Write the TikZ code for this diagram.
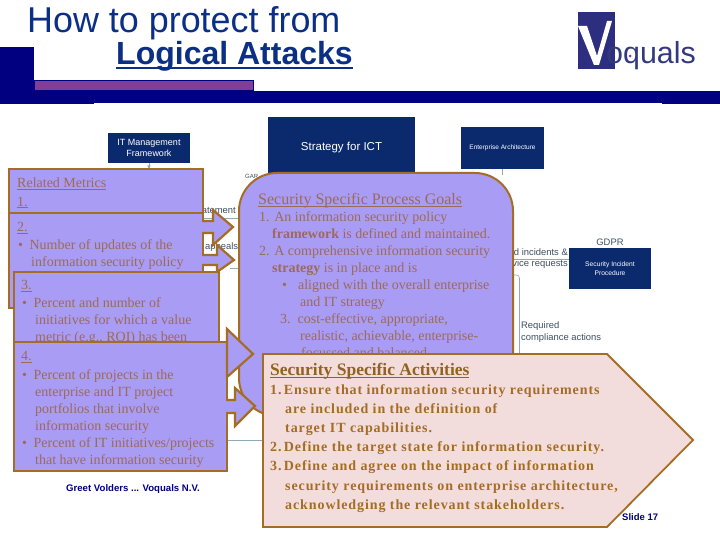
\documentclass[tikz,border=0pt]{standalone}
\usepackage{fontspec}
\setmainfont{Liberation Serif}
\newfontfamily\arialfont{Liberation Sans}
\newfontfamily\actfont[LetterSpace=6.5]{Liberation Serif}
\definecolor{navyblock}{HTML}{000080}
\definecolor{titleblue}{HTML}{0A2F85}
\definecolor{boxblue}{HTML}{0B2A6E}
\definecolor{logoblue}{HTML}{2E2E80}
\definecolor{logotext}{HTML}{33397F}
\definecolor{barpurple}{HTML}{7F3F98}
\definecolor{lavender}{HTML}{A99CF5}
\definecolor{rust}{HTML}{A56D24}
\definecolor{metrictext}{HTML}{9C6A58}
\definecolor{pinkfill}{HTML}{F2DDDC}
\definecolor{linkgrey}{HTML}{8FA9BD}
\definecolor{smalltext}{HTML}{3F4F63}
\tikzset{
    navybox/.style={fill=boxblue, text=white, align=center, inner sep=0pt, font=\arialfont\fontsize{9}{11.5}\selectfont},
    smalllabel/.style={inner sep=0pt, text=smalltext, font=\arialfont\fontsize{9.4}{11.5}\selectfont},
    metricbox/.style={draw=rust, line width=2pt, fill=lavender},
    metricline/.style={anchor=north west, inner sep=0pt, align=left, text=metrictext, font=\fontsize{14}{17}\selectfont},
    blockarrow/.style={draw=rust, line width=2.2pt, fill=lavender, line join=miter},
    link/.style={draw=linkgrey, line width=0.6pt},
}
\newcommand{\hang}{\hspace*{11pt}}
\newsavebox\ulbox
\newcommand{\ubar}[3]{\sbox\ulbox{#3}\rlap{\usebox\ulbox}\rlap{\raisebox{-#2}{\rule{\wd\ulbox}{#1}}}\hspace*{\wd\ulbox}}
\begin{document}
\begin{tikzpicture}[
        x=1pt, y=-1pt, >=latex,
    ]
    \useasboundingbox (0,0) rectangle (720,540);
    \fill[white] (0,0) rectangle (720,540);

    % header bars
    \fill[navyblock] (0,47) rectangle (34,104);
    \fill[navyblock] (34,91) rectangle (720,103);
    \fill[navyblock] (0,103) rectangle (94,104.5);
    \fill[navyblock] (662,103) rectangle (720,104.5);
    \draw[draw=navyblock, line width=1pt, fill=barpurple] (34,81) rectangle (253.5,91);

    \node (title) [anchor=base west, inner sep=0pt, text=titleblue, font=\arialfont\fontsize{35.9}{36}\selectfont] at (27,33) {How to protect from};
    \node (subtitle) [anchor=base west, inner sep=0pt, text=titleblue, font=\arialfont\bfseries\fontsize{32}{33}\selectfont] at (116,65) {\ubar{1.6pt}{4pt}{Logical Attacks}};

    % logo
    \fill[logoblue] (578,12) rectangle (615,69);
    \fill[white] (578,26) -- (587,26) -- (597,56) -- (607,21) -- (612,21) -- (599,65) -- (594,65) -- cycle;
    \node (logo) [anchor=base west, inner sep=0pt, text=logotext, font=\arialfont\fontsize{30.4}{31}\selectfont] at (606,64) {oquals};
    \fill[barpurple] (630,56) circle (1.5);

    % background chart
    \node (itmgmt) [navybox, minimum width=82pt, minimum height=30pt] at (149,148) {IT Management\\Framework};
    \node (strategy) [navybox, minimum width=147pt, minimum height=62pt, font=\arialfont\fontsize{11.5}{13}\selectfont] at (341.5,148) {Strategy for ICT};
    \node (entarch) [navybox, minimum width=83pt, minimum height=42pt, font=\arialfont\fontsize{6.5}{9}\selectfont] at (502.5,148) {Enterprise Architecture};
    \node (incident) [navybox, minimum width=82pt, minimum height=41pt, font=\arialfont\fontsize{6.7}{9}\selectfont] at (610,268.5) {Security Incident\\Procedure};
    \node (gdpr) [smalllabel, anchor=south] at (610,246) {GDPR};
    \node (gar) [smalllabel, anchor=west, font=\arialfont\fontsize{6}{8}\selectfont] at (245,176) {GAR};
    \node (stmt) [smalllabel, anchor=east] at (236,211) {statement};
    \node (apprv) [smalllabel, anchor=west] at (205,247) {appeals \&};
    \node (related) [smalllabel, anchor=east] at (568,252.5) {Related incidents \&};
    \node (service) [smalllabel, anchor=east] at (568,264.5) {service requests};
    \node (required) [smalllabel, anchor=north west, align=left] at (521,321.5) {Required\\compliance actions};

    \coordinate (stmtA) at (204,218);
    \coordinate (stmtB) at (239,218);
    \coordinate (apprA) at (230,268);
    \coordinate (apprB) at (239,268);
    \coordinate (activityA) at (227,440);
    \coordinate (activityB) at (263,440);
    \coordinate (metricTop) at (149,170);
    \coordinate (goalTop) at (502.5,175);
    \coordinate (incidentA) at (513,259);
    \coordinate (reqA) at (513,275);
    \coordinate (reqB) at (519.5,354);

    \draw[link] (stmtA) -- (stmtB);
    \draw[link] (apprA) -- (apprB);
    \draw[link] (activityA) -- (activityB);
    \draw[link, ->] (itmgmt.south) -- (metricTop);
    \draw[link] (entarch.south) -- (goalTop);
    \draw[link] (incidentA) -- (incidentA -| incident.west);
    \draw[link, rounded corners=3pt] (reqA) -| (reqB);

    % process goals
    \draw[metricbox, rounded corners=38pt] (239,173) rectangle (513,416);
    \node (goalhead) [metricline, font=\fontsize{16}{18}\selectfont] at (258,193.5) {\ubar{1.1pt}{2.5pt}{Security Specific Process Goals}};
    \node (goals) [metricline] at (259,211.5) {1. An information security policy\\
        \hspace*{13pt}\textbf{framework} is defined and maintained.\\
        2. A comprehensive information security\\
        \hspace*{13pt}\textbf{strategy} is in place and is\\
        \hspace*{23pt}\textbullet\hspace*{11pt}aligned with the overall enterprise\\
        \hspace*{41pt}and IT strategy\\
        \hspace*{21pt}3.\ \ cost-effective, appropriate,\\
        \hspace*{41pt}realistic, achievable, enterprise-\\
        \hspace*{42pt}focussed and balanced.};

    % metrics 1 and 2
    \draw[metricbox] (9,169) rectangle (203,213);
    \draw[metricbox] (9,213) rectangle (203,308);
    \node (metrichead) [metricline] at (17,177.5) {\ubar{0.8pt}{2pt}{Related Metrics}\\[1.8pt]\ubar{0.8pt}{2pt}{1.}};
    \node (numB) [metricline] at (17,222) {\ubar{0.8pt}{2pt}{2.}};
    \node (metricB) [metricline] at (18,239) {\textbullet\hspace*{6.5pt}Number of updates of the\\\hang\hspace*{2pt}information security policy};

    \draw[blockarrow] (202,221) -- (213,221) -- (213,210) -- (233,227) -- (213,245) -- (213,233) -- (202,233);
    \draw[blockarrow] (202,255) -- (217,255) -- (217,245) -- (234,260) -- (217,272) -- (217,265) -- (202,265);

    % metrics 3
    \draw[metricbox] (14,272) rectangle (219,360);
    \node (numC) [metricline] at (21,280) {\ubar{0.8pt}{2pt}{3.}};
    \node (metricC) [metricline] at (22,297) {\textbullet\hspace*{6.5pt}Percent and number of\\\hang\hspace*{2pt}initiatives for which a value\\\hang\hspace*{2pt}metric (e.g., ROI) has been};

    % metrics 4
    \draw[metricbox] (14,342) rectangle (227,471);
    \node (numD) [metricline] at (21,351) {\ubar{0.8pt}{2pt}{4.}};
    \node (metricD) [metricline] at (22,369) {\textbullet\hspace*{6.5pt}Percent of projects in the\\\hang\hspace*{2pt}enterprise and IT project\\\hang\hspace*{2pt}portfolios that involve\\\hang\hspace*{2pt}information security\\\textbullet\hspace*{6.5pt}Percent of IT initiatives/projects\\\hang\hspace*{2pt}that have information security};

    \draw[blockarrow] (227,329) -- (253,354) -- (227,377) -- cycle;
    \draw[blockarrow] (226,400) -- (235,400) -- (235,388) -- (255,406) -- (235,426) -- (235,413) -- (226,413);

    % activities
    \draw[draw=rust, line width=1.8pt, fill=pinkfill] (263,354) -- (607,354) -- (693,440) -- (607,527) -- (263,527) -- cycle;
    \node (acthead) [metricline, text=rust!90!black, font=\bfseries\fontsize{17.5}{20}\selectfont] at (270,363) {\ubar{1.2pt}{2.5pt}{Security Specific Activities}};
    \node (activities) [metricline, text=rust, font=\actfont\bfseries\fontsize{14}{19.2}\selectfont] at (270,384) {1.\,Ensure that information security requirements\\
        \hspace*{15pt}are included in the definition of\\
        \hspace*{15pt}target IT capabilities.\\
        2.\,Define the target state for information security.\\
        3.\,Define and agree on the impact of information\\
        \hspace*{15pt}security requirements on enterprise architecture,\\
        \hspace*{15pt}acknowledging the relevant stakeholders.};

    % footer
    \node (presenter) [anchor=west, inner sep=0pt, text=navyblock, font=\arialfont\bfseries\fontsize{9.6}{10}\selectfont] at (66,489) {Greet Volders ... Voquals N.V.};
    \node (slidenum) [anchor=west, inner sep=0pt, text=navyblock, font=\arialfont\bfseries\fontsize{9.5}{10}\selectfont] at (622,517) {Slide 17};

    \end{tikzpicture}
\end{document}
